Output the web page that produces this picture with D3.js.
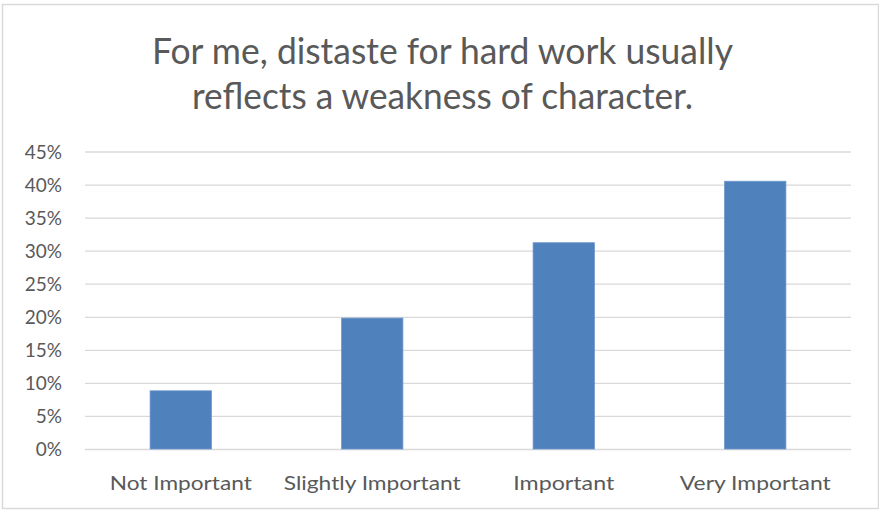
<!DOCTYPE html>
<html>
<head>
<meta charset="utf-8">
<script src="https://cdn.jsdelivr.net/npm/d3@7"></script>
<style>
  html, body { margin: 0; padding: 0; background: #fff; }
  svg { display: block; }
  text { font-family: Lato, "Liberation Sans", sans-serif; fill: #595959; }
</style>
</head>
<body>
<svg id="chart" width="879" height="510"></svg>
<script>
const titleLines = ["For me, distaste for hard work usually", "reflects a weakness of character."];
const categories = ["Not Important", "Slightly Important", "Important", "Very Important"];
const values = [8.8, 19.8, 31.2, 40.5];
const yTicks = [0, 5, 10, 15, 20, 25, 30, 35, 40, 45];

const svg = d3.select("#chart");
const plot = { left: 85, right: 851, top: 151.5, bottom: 449 };

// outer border
svg.append("rect")
  .attr("x", 2.5).attr("y", 4.5)
  .attr("width", 876).attr("height", 504)
  .attr("fill", "#fff").attr("stroke", "#d9d9d9").attr("stroke-width", 1.5);

// title
const titleWidths = [581, 501];
svg.append("g").selectAll("text")
  .data(titleLines)
  .join("text")
  .attr("x", 442.5)
  .attr("y", (d, i) => 64 + i * 45)
  .attr("text-anchor", "middle")
  .attr("font-size", 36)
  .attr("textLength", (d, i) => titleWidths[i])
  .attr("lengthAdjust", "spacingAndGlyphs")
  .text(d => d);

const x = d3.scaleBand().domain(categories).range([plot.left, plot.right]).paddingInner(0.68).paddingOuter(0.34);
const y = d3.scaleLinear().domain([0, 45]).range([plot.bottom, plot.top]);

// y axis / gridlines
const yAxis = d3.axisLeft(y)
  .tickValues(yTicks)
  .tickSize(-(plot.right - plot.left))
  .tickPadding(23)
  .tickFormat(d => d + "%");
const gy = svg.append("g").attr("transform", `translate(${plot.left},0)`).call(yAxis);
gy.select(".domain").remove();
gy.selectAll(".tick line").attr("stroke", "#d9d9d9").attr("stroke-width", 1.3);
gy.selectAll(".tick text")
  .attr("font-size", 19)
  .attr("dy", "0.36em")
  .style("font-family", 'Lato, "Liberation Sans", sans-serif')
  .attr("fill", "#595959");

// bars
svg.append("g").selectAll("rect")
  .data(values)
  .join("rect")
  .attr("x", (d, i) => x(categories[i]))
  .attr("width", x.bandwidth())
  .attr("y", d => y(d))
  .attr("height", d => y(0) - y(d))
  .attr("fill", "#4f81bd")
  .attr("stroke", "#6c96cc")
  .attr("stroke-width", 0.8);

// x axis labels
const xLabelWidths = [142, 177, 101, 151];
const xAxis = d3.axisBottom(x).tickSize(0).tickPadding(28);
const gx = svg.append("g").attr("transform", `translate(0,${plot.bottom})`).call(xAxis);
gx.select(".domain").remove();
gx.selectAll(".tick text")
  .attr("font-size", 19)
  .style("font-family", 'Lato, "Liberation Sans", sans-serif')
  .attr("fill", "#595959")
  .attr("textLength", (d, i) => xLabelWidths[i])
  .attr("lengthAdjust", "spacingAndGlyphs");
</script>
</body>
</html>
